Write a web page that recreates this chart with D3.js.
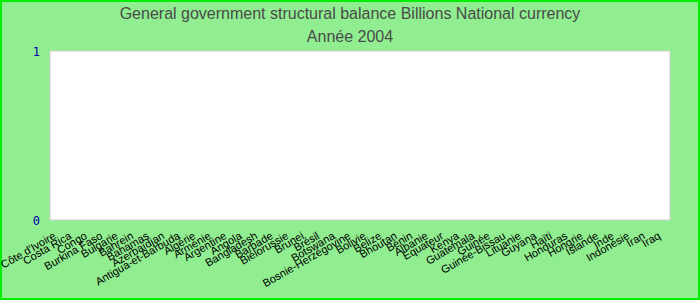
<!DOCTYPE html>
<html>
<head>
<meta charset="utf-8">
<script src="https://cdn.jsdelivr.net/npm/d3@7"></script>
<style>
  body { margin: 0; }
  svg { display: block; font-family: "Liberation Sans", Arial, sans-serif; }
</style>
</head>
<body>
<div id="chart"></div>
<script>
// chart data
const title = 'General government structural balance Billions National currency';
const subtitle = 'Année 2004';
const countries = [
    "Côte d'Ivoire", 'Costa Rica', 'Congo', 'Burkina Faso', 'Bulgarie', 'Bahrein',
    'Bahamas', 'Azerbaïdjan', 'Antigua-et-Barbuda', 'Algérie', 'Arménie', 'Argentine',
    'Angola', 'Bangladesh', 'Barbade', 'Biélorussie', 'Brunei', 'Brésil', 'Botswana',
    'Bosnie-Herzégovine', 'Bolivie', 'Belize', 'Bhoutan', 'Bénin', 'Albanie', 'Equateur',
    'Kenya', 'Guatemala', 'Guinée', 'Guinée-Bissau', 'Lituanie', 'Guyana', 'Haïti',
    'Honduras', 'Hongrie', 'Islande', 'Inde', 'Indonésie', 'Iran', 'Iraq'
];
// no value reported for 2004
const values = countries.map(() => null);
const yTicks = [0, 1];

const width = 700, height = 300;
const margin = { top: 51, right: 30, bottom: 80, left: 50 };

const svg = d3.select('#chart').append('svg')
    .attr('width', width)
    .attr('height', height);

// background + border
svg.append('rect')
    .attr('x', 1).attr('y', 1)
    .attr('width', width - 2).attr('height', height - 2)
    .attr('fill', '#90ee90')
    .attr('stroke', '#00ee00')
    .attr('stroke-width', 2);

// titles
svg.append('text')
    .attr('x', width / 2).attr('y', 19)
    .attr('text-anchor', 'middle')
    .attr('font-size', 16)
    .attr('fill', '#4a4a4a')
    .text(title);
svg.append('text')
    .attr('x', width / 2).attr('y', 42)
    .attr('text-anchor', 'middle')
    .attr('font-size', 16)
    .attr('fill', '#4a4a4a')
    .text(subtitle);

const x = d3.scaleBand()
    .domain(countries)
    .range([margin.left, width - margin.right]);

const y = d3.scaleLinear()
    .domain(d3.extent(yTicks))
    .range([height - margin.bottom, margin.top]);

// plot area
svg.append('rect')
    .attr('x', margin.left).attr('y', margin.top)
    .attr('width', width - margin.left - margin.right)
    .attr('height', height - margin.top - margin.bottom)
    .attr('fill', '#fff')
    .attr('stroke', '#ccc');

// bars (only where a value exists)
svg.selectAll('rect.bar')
    .data(countries.map((c, i) => ({ c, v: values[i] })).filter(d => d.v != null))
    .enter().append('rect')
    .attr('class', 'bar')
    .attr('x', d => x(d.c) + 2)
    .attr('width', x.bandwidth() - 4)
    .attr('y', d => y(Math.max(0, d.v)))
    .attr('height', d => Math.abs(y(d.v) - y(0)))
    .attr('fill', '#4572a7');

// y axis labels
const yAxis = svg.append('g')
    .attr('transform', `translate(${margin.left - 10},0)`)
    .call(d3.axisLeft(y).tickValues(yTicks).tickSize(0).tickPadding(0).tickFormat(d3.format('d')));
yAxis.select('.domain').remove();
yAxis.selectAll('text')
    .attr('fill', '#0000aa')
    .attr('font-family', '"DejaVu Sans Mono", monospace')
    .attr('font-size', 12)
    .attr('dy', '0.35em');

// x axis labels
const xAxis = svg.append('g')
    .attr('transform', `translate(0,${height - margin.bottom})`)
    .call(d3.axisBottom(x).tickSize(0).tickPadding(0));
xAxis.select('.domain').remove();
xAxis.selectAll('text')
    .attr('font-size', 11)
    .attr('fill', '#000')
    .attr('text-anchor', 'end')
    .attr('dy', 0)
    .attr('transform', 'translate(-1,18) rotate(-30)');
</script>
</body>
</html>
